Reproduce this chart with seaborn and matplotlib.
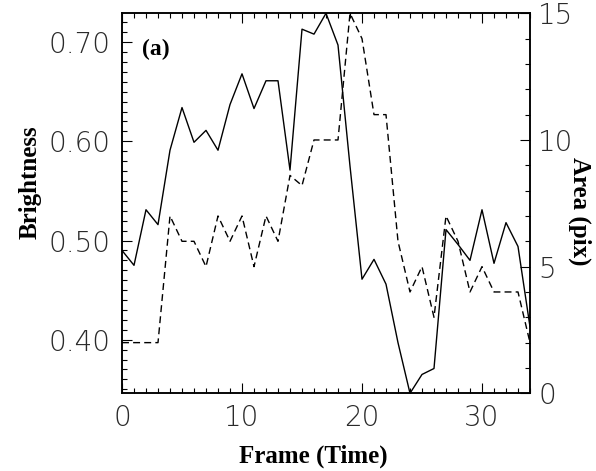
import numpy as np
import pandas as pd
import matplotlib
matplotlib.use("Agg")
import matplotlib.pyplot as plt
import seaborn as sns
from matplotlib.ticker import MultipleLocator, FormatStrFormatter

# ---- data ----
frames = list(range(35))
brightness = [0.490, 0.475, 0.531, 0.516, 0.591, 0.634, 0.599, 0.611, 0.591, 0.637,
              0.668, 0.633, 0.661, 0.661, 0.571, 0.713, 0.708, 0.729, 0.697, 0.575,
              0.461, 0.481, 0.456, 0.397, 0.346, 0.365, 0.371, 0.511, 0.496, 0.480,
              0.531, 0.477, 0.518, 0.494, 0.413]
area = [2, 2, 2, 2, 7, 6, 6, 5, 7, 6,
        7, 5, 7, 6, 8.6, 8.2, 10, 10, 10, 15,
        14, 11, 11, 6, 4, 5, 3, 7, 6, 4,
        5, 4, 4, 4, 2]
x_ticks = [0, 10, 20, 30]
b_ticks = [0.40, 0.50, 0.60, 0.70]
a_ticks = [0, 5, 10, 15]

sns.set_theme(style="ticks")
plt.rcParams["font.family"] = ["DejaVu Sans"]
plt.rcParams["font.weight"] = "light"

df = pd.DataFrame({"Frame": frames, "Brightness": brightness, "Area": area})

W, H = 596, 471
fig = plt.figure(figsize=(W / 100, H / 100), dpi=100)
ax = fig.add_axes([122 / W, 1 - 393.3 / H, 408 / W, 380 / H])

sns.lineplot(data=df, x="Frame", y="Brightness", ax=ax, color="black", lw=1.0)
ax2 = ax.twinx()
sns.lineplot(data=df, x="Frame", y="Area", ax=ax2, color="black", lw=1.0)
ax2.lines[0].set_linestyle((0, (5, 3)))

ax.set_xlim(0, 34)
ax.set_ylim(min(brightness), max(brightness))
ax2.set_ylim(0, 15)

ax.set_xticks(x_ticks)
ax.xaxis.set_minor_locator(MultipleLocator(1))
ax.set_yticks(b_ticks)
ax.yaxis.set_minor_locator(MultipleLocator(0.01))
ax.yaxis.set_major_formatter(FormatStrFormatter("%.2f"))
ax2.set_yticks(a_ticks)
ax2.yaxis.set_minor_locator(MultipleLocator(1))

tick_col = "#2a2a2a"
ax.tick_params(axis="both", which="both", direction="in", top=True, right=False,
               color="black", labelcolor=tick_col, labelsize=20)
ax.tick_params(axis="both", which="major", length=7.5, width=0.8, pad=8)
ax.tick_params(axis="both", which="minor", length=3.8, width=0.8)
ax2.tick_params(axis="y", which="both", direction="in", left=False, right=True,
                color="black", labelcolor=tick_col, labelsize=20)
ax2.tick_params(axis="y", which="major", length=7.5, width=0.8, pad=6)
ax2.tick_params(axis="y", which="minor", length=3.8, width=0.8)

for a in (ax, ax2):
    for s in a.spines.values():
        s.set_linewidth(1.1)
        s.set_color("black")
    a.grid(False)

lab = dict(fontfamily="Liberation Serif", fontweight="bold", fontsize=18, color="black")
ax.set_xlabel("Frame (Time)", **lab)
ax.set_ylabel("Brightness", **lab)
ax2.set_ylabel("Area (pix)", rotation=270, **lab)
ax.xaxis.set_label_coords(0.47, -0.165)
ax.yaxis.set_label_coords(-0.225, 0.555)
ax2.yaxis.set_label_coords(1.123, 0.48)
ax2.yaxis.label.set_va("center")
ax.yaxis.label.set_va("center")
ax.xaxis.label.set_va("center")

ax.text(0.05, 0.905, "(a)", transform=ax.transAxes, ha="left", va="center",
        fontfamily="Liberation Serif", fontweight="bold", fontsize=17, color="black")

fig.savefig("out.png", dpi=100)
